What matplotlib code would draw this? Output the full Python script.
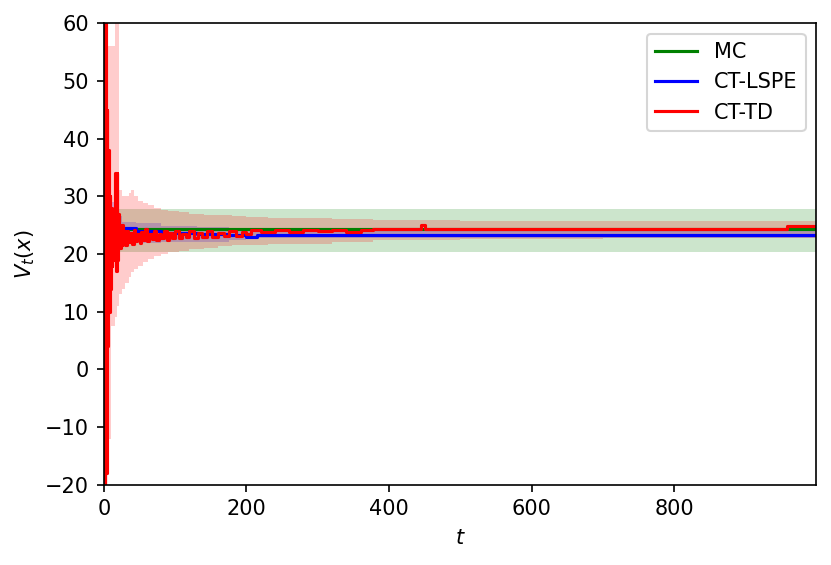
import matplotlib
matplotlib.use("Agg")
import matplotlib.pyplot as plt

# ─── Data ────────────────────────────────────────────────
# MC: flat estimate with a flat band
mc_t     = [0, 999]
mc_val   = [24.3, 24.3]
mc_lo    = [20.3, 20.3]
mc_hi    = [27.8, 27.8]

# CT-LSPE
lspe_t   = [5, 10, 14, 18, 25, 45, 80, 130, 175, 200, 215, 999]
lspe_val = [26.5, 26.5, 25.5, 24.7, 24.5, 23.9, 23.6, 23.5, 23.3, 23.0, 23.3, 23.3]
lspe_lo  = [22.0, 21.8, 21.8, 21.8, 21.8, 21.9, 22.0, 22.1, 22.4, 22.6, 22.8, 22.8]
lspe_hi  = [30.0, 29.0, 27.5, 26.5, 25.6, 25.3, 24.9, 24.6, 24.3, 24.2, 24.0, 23.8]

# CT-TD
td_t   = [0, 1, 2, 3, 4, 5, 6, 7, 8, 9, 10, 11, 12, 13, 14, 15, 16, 17, 18, 19,
          20, 21, 22, 23, 24, 25, 26, 27, 28, 30, 32, 34, 37, 39, 42, 44, 47,
          50, 52, 55, 58, 61, 64, 67, 70, 73, 77, 80, 84, 88, 92, 96, 100,
          105, 110, 115, 120, 126, 132, 138, 145, 152, 160, 168, 176, 185,
          194, 200, 206, 220, 240, 260, 280, 300, 320, 340, 360, 378, 420,
          445, 450, 500, 600, 700, 800, 900, 958, 999]
td_val = [60, -20, 60, -18, 45, 4, 38, 10, 30, 14, 28, 18, 26, 19, 25, 20, 34,
          17, 34, 19, 27, 21, 25, 21, 24.5, 21.5, 25, 22, 24, 21.5, 24.0, 22.0,
          23.6, 21.8, 24.2, 22.2, 23.4, 21.9, 23.8, 22.4, 24.3, 22.3, 23.5,
          22.6, 23.9, 22.4, 23.4, 22.7, 24.0, 22.5, 23.6, 22.8, 23.9, 22.7,
          23.5, 22.9, 24.0, 22.8, 23.6, 23.0, 23.9, 22.9, 23.7, 23.1, 24.0,
          23.2, 23.8, 23.4, 24.1, 23.8, 24.1, 23.8, 24.1, 23.9, 24.1, 23.8,
          24.1, 24.35, 24.3, 25.0, 24.35, 24.3, 24.4, 24.3, 24.4, 24.3, 24.8,
          24.8]
tdb_t  = [0, 3, 5, 9, 10, 13, 16, 18, 21, 25, 30, 35, 38, 42, 48, 55, 62, 70,
          80, 90, 105, 120, 140, 160, 180, 200, 230, 260, 320, 378, 500, 700, 999]
tdb_lo = [-20, -20, -12, -12, 7.5, 7.5, 9, 11, 13, 14, 15, 16, 16.8, 17.4,
          18.0, 18.6, 19.1, 19.6, 20.0, 20.3, 20.6, 20.8, 21.0, 21.3, 21.5,
          21.6, 21.7, 21.8, 22.0, 22.4, 22.6, 22.8, 22.8]
tdb_hi = [60, 56, 56, 56, 56, 56, 62, 62, 31, 30, 30, 30.5, 31, 30, 29.2, 28.8,
          28.4, 28.0, 27.7, 27.4, 27.2, 27.0, 26.8, 26.7, 26.5, 26.4, 26.3,
          26.2, 26.0, 25.9, 25.8, 25.8, 25.8]

# ─── Plot ────────────────────────────────────────────────
plt.rcParams["font.size"] = 10
fig, ax = plt.subplots(figsize=(831 / 150, 565 / 150), dpi=150)
fig.subplots_adjust(left=0.125, right=0.982, top=0.959, bottom=0.142)

ax.plot(mc_t, mc_val, color="green", drawstyle="steps-post", label="MC")
ax.fill_between(mc_t, mc_lo, mc_hi, color="green", alpha=0.2, step="post", lw=0)

ax.plot(lspe_t, lspe_val, color="blue", drawstyle="steps-post", label="CT-LSPE")
ax.fill_between(lspe_t, lspe_lo, lspe_hi, color="blue", alpha=0.2, step="post", lw=0)

ax.plot(td_t, td_val, color="red", drawstyle="steps-post", label="CT-TD")
ax.fill_between(tdb_t, tdb_lo, tdb_hi, color="red", alpha=0.2, step="post", lw=0)

ax.set_xlim(0, 999)
ax.set_ylim(-20, 60)
ax.set_xlabel("$t$")
ax.set_ylabel("$V_t(x)$")
ax.legend(loc="upper right")

fig.savefig("out.png", dpi=150)
